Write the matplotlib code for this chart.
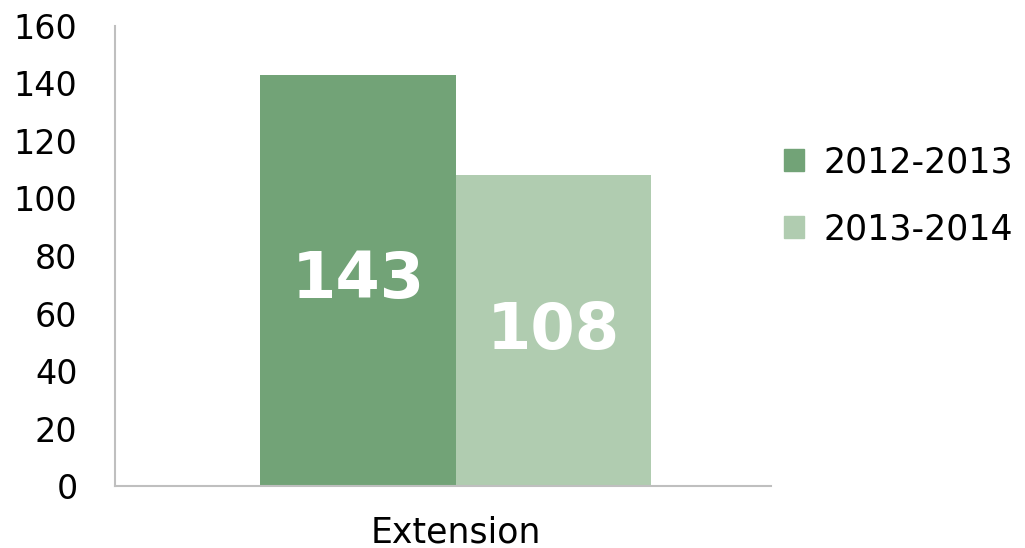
import matplotlib.pyplot as plt
from matplotlib.patches import Patch

categories = ["Extension"]
series = ["2012-2013", "2013-2014"]
values = [143, 108]
colors = ["#72a377", "#b0ccb0"]
yticks = [0, 20, 40, 60, 80, 100, 120, 140, 160]

fig = plt.figure(figsize=(10.25, 5.48), dpi=100)
ax = fig.add_axes([0.1122, 0.1131, 0.64, 0.8395])

width = 1.0
offsets = [-0.5, 0.5]
for name, val, col, off in zip(series, values, colors, offsets):
    bars = ax.bar([off], [val], width=width, color=col, label=name)
    ax.bar_label(bars, labels=[str(val)], label_type="center",
                 color="white", fontsize=46, fontweight="bold")

ax.set_xlim(-1.744, 1.615)
ax.set_ylim(0, 160)
ax.set_yticks(yticks)
ax.set_xticks([0])
ax.set_xticklabels(categories)
ax.tick_params(axis="y", length=0, pad=27, labelsize=24)
ax.tick_params(axis="x", length=0, pad=21, labelsize=25)

for side in ["top", "right"]:
    ax.spines[side].set_visible(False)
for side in ["left", "bottom"]:
    ax.spines[side].set_color("#bfbfbf")
    ax.spines[side].set_linewidth(1.5)

handles = [Patch(color=c, label=s) for s, c in zip(series, colors)]
fig.legend(handles=handles, loc="upper left", bbox_to_anchor=(0.734, 0.792),
           frameon=False, fontsize=25, handlelength=0.58, handleheight=0.58,
           handletextpad=0.58, labelspacing=0.95)

fig.savefig("out.png", dpi=100)
